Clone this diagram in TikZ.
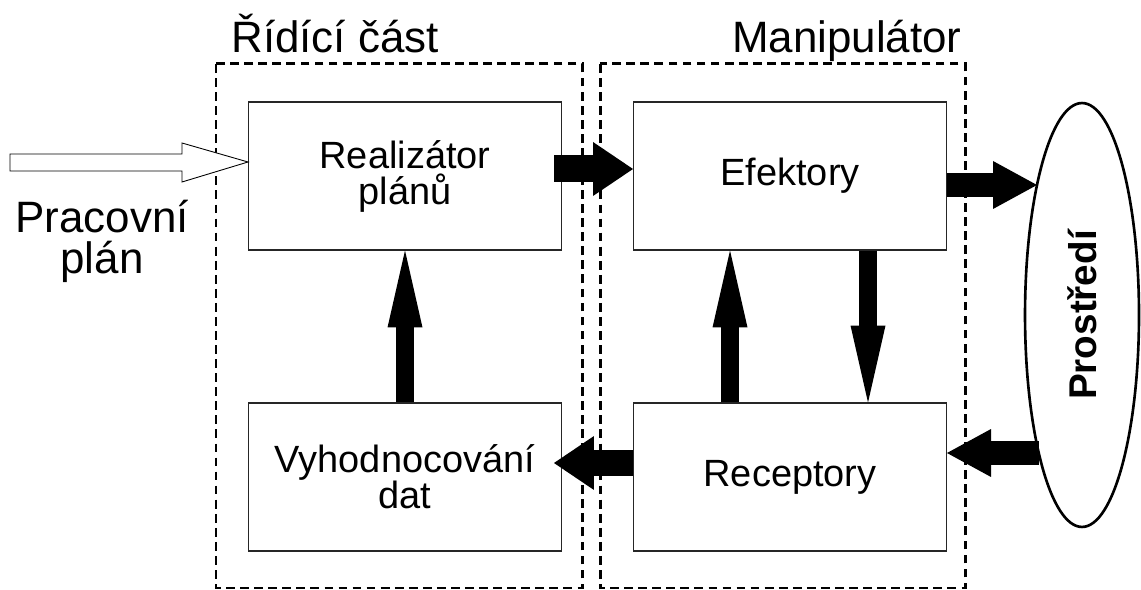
\documentclass[tikz,border=0pt]{standalone}
\usepackage{fontspec}
\setmainfont{Liberation Sans}
\usetikzlibrary{shapes.geometric,arrows.meta,positioning,calc}
\tikzstyle{block}=[draw=black!85, line width=.6pt, minimum width=6.26cm, minimum height=2.96cm, align=center, font=\fontsize{21.6}{20.5}\selectfont]
\tikzstyle{group}=[line width=1.7pt, dash pattern=on 5pt off 3pt]
\tikzstyle{title}=[inner sep=0pt, align=center, font=\fontsize{25}{23.3}\selectfont]
\tikzstyle{world}=[ellipse, draw, line width=1.5pt, inner sep=0pt, minimum width=8.48cm, minimum height=2.28cm, font=\bfseries\fontsize{22}{22}\selectfont]
\tikzset{harrow/.style={line width=.54cm, -{Triangle[length=.8cm, width=1.08cm, line width=0pt]}}}
\tikzset{earrow/.style={line width=.48cm, -{Triangle[length=.88cm, width=.96cm, line width=0pt]}}}
\tikzset{varrow/.style={line width=.35cm, -{Triangle[length=1.54cm, width=.70cm, line width=0pt]}}}
\tikzset{hollow/.style={line width=.5pt, fill=white, line join=miter}}
\tikzset{y=-0.02cm}
\tikzset{x=0.02cm}

\begin{document}
\begin{tikzpicture}
  \useasboundingbox (0,0) rectangle (1141,590);
  %% Groups
  \draw[group] (216,64) rectangle (582,588);
  \draw[group] (600,64) rectangle (965,588);
  \draw (231,53) node[title, anchor=base west] (ctrl) {Řídící část};
  \draw (962,53) node[title, anchor=base east] (manip) {Manipulátor};

  %% Blocks
  \draw (405,176) node[block] (real) {Realizátor\\plánů};
  \draw (405,477) node[block] (eval) {Vyhodnocování\\dat};
  \draw (790,176) node[block] (efek) {Efektory};
  \draw (790,477) node[block] (recep) {Receptory};
  \draw (1082,315) node[world, rotate=90] (env) {Prostředí};

  %% Input plan
  \draw (102,241) node[title] (plan) {Pracovní\\plán};
  \coordinate (plantail) at (10,162.5);
  \draw[hollow] (plantail) ++(0,-8.5) -- (182,154) -- (182,143) -- ($(real.west)+(0,-14)$)
    -- (182,182) -- (182,171) -- (10,171) -- cycle;

  %% Flows
  \coordinate (envin) at (1037,185);
  \coordinate (envout) at (1039,453);
  \draw[harrow] ($(real.east)+(-8,-7)$) -- ($(efek.west)+(0,-7)$);
  \draw[earrow] ($(efek.east)+(0,9)$) -- (envin);
  \draw[earrow] (envout) -- ($(recep.east)+(0,-24)$);
  \draw[harrow] ($(recep.west)+(0,-14)$) -- ($(eval.east)+(-8,-14)$);
  \draw[varrow] (eval.north) -- (real.south);
  \draw[varrow] ($(recep.north)+(-60,0)$) -- ($(efek.south)+(-60,0)$);
  \draw[varrow] ($(efek.south)+(78,0)$) -- ($(recep.north)+(78,0)$);
\end{tikzpicture}
\end{document}
